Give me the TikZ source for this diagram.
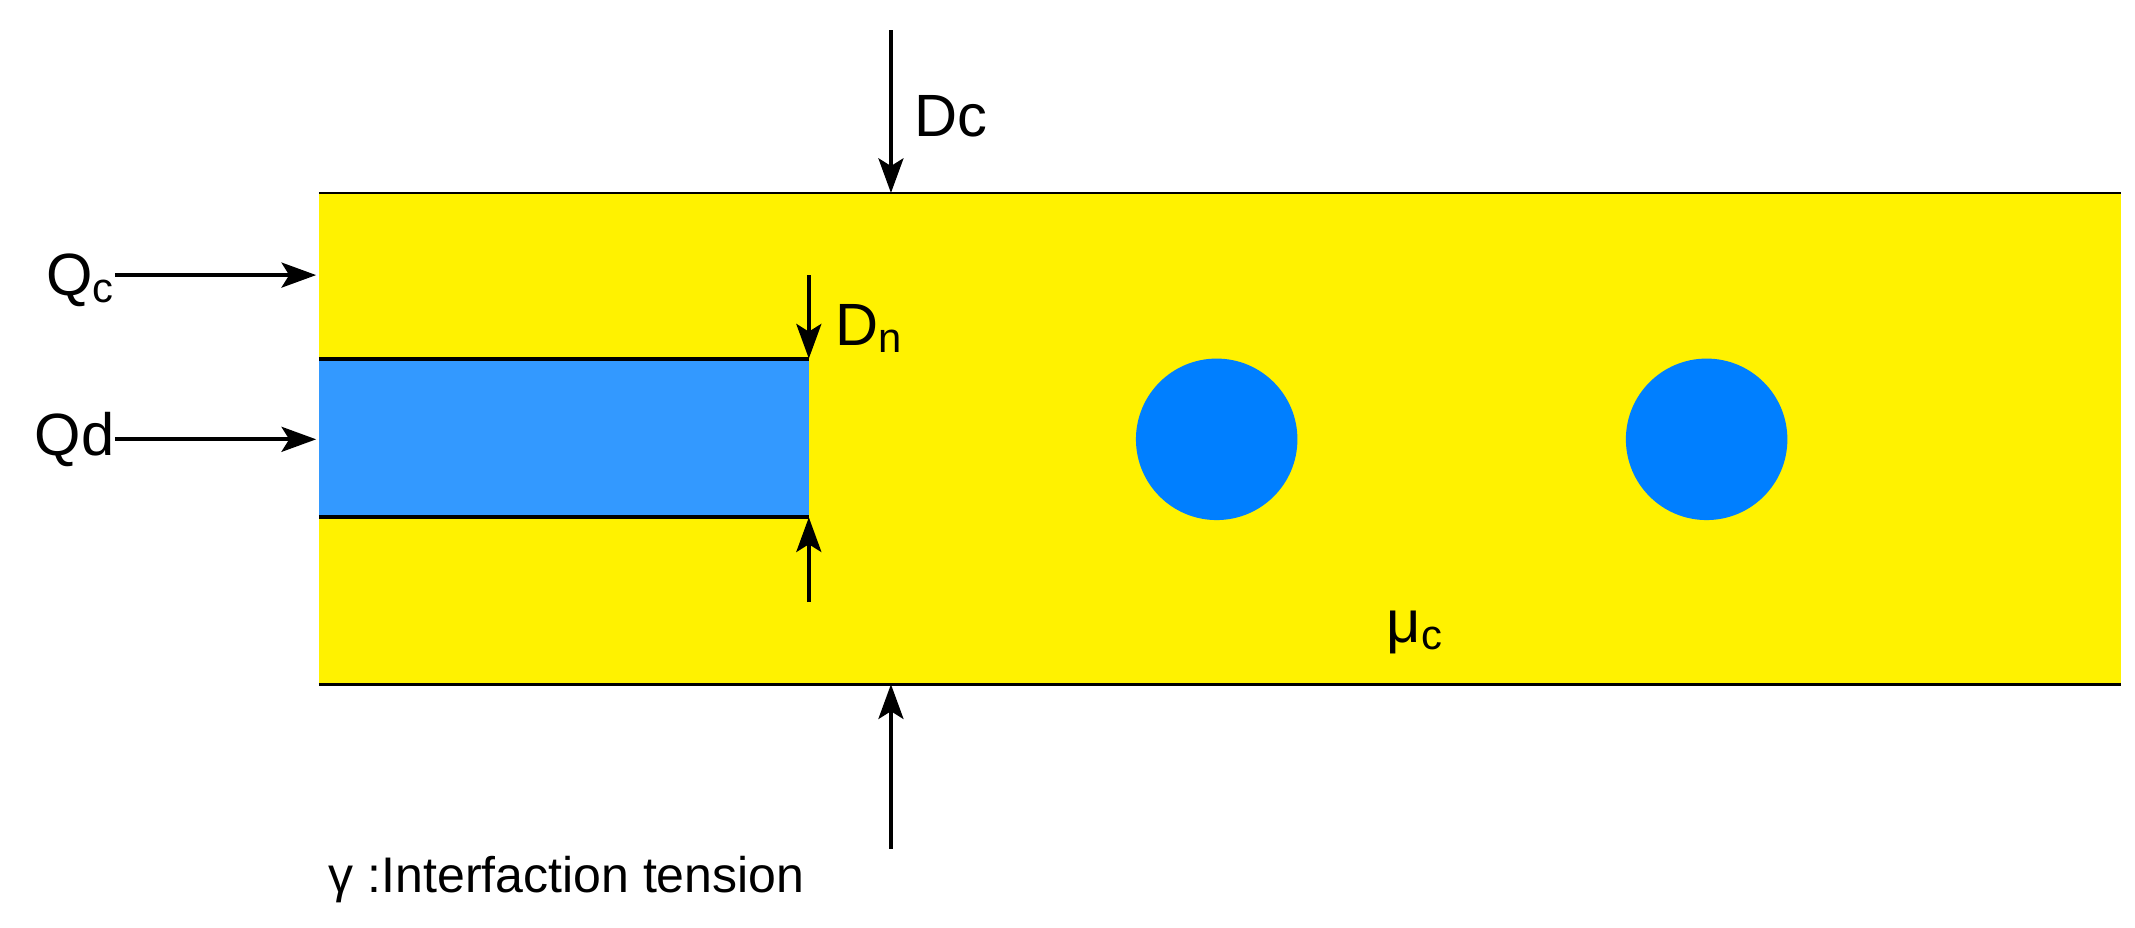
\documentclass[tikz,border=0pt]{standalone}
\usepackage{fontspec}
\setmainfont{Liberation Sans}
\usetikzlibrary{arrows.meta}
\begin{document}
\begin{tikzpicture}[x=0.025cm,y=-0.025cm,
  arr/.style={line width=1.9pt,-{Stealth[length=18pt,width=13pt,inset=4pt]}},
  lbl/.style={font=\fontsize{31}{36}\selectfont,inner sep=0pt}]
\useasboundingbox (0,0) rectangle (1560,678);
\fill[yellow] (233,141) rectangle (1550,500);
\draw[line width=1.3pt] (233,141) -- (1550,141);
\draw[line width=1.3pt] (233,500) -- (1550,500);
\fill[fill={rgb,255:red,51;green,153;blue,255}] (233,262) rectangle (591,378);
\draw[line width=2pt] (233,262) -- (591,262);
\draw[line width=2pt] (233,378) -- (591,378);
\fill[fill={rgb,255:red,0;green,127;blue,255}] (889,321) circle (59) (1247,321) circle (59);
\coordinate (dct) at (651,22); \coordinate (dcb) at (651,141);
\draw[arr] (dct) -- (dcb);
\node[lbl,anchor=west] (dc) at (668,85) {Dc};
\coordinate (gb) at (651,620); \coordinate (gt) at (651,500);
\draw[arr] (gb) -- (gt);
\node[lbl,anchor=base west,font=\fontsize{26}{30}\selectfont] (g) at (240,652) {γ :Interfaction tension};
\node[lbl,anchor=east] (qc) at (84,205) {Q\textsubscript{c}};
\node[lbl,anchor=east] (qd) at (84,321) {Qd};
\coordinate (qce) at (231,201); \coordinate (qde) at (231,321);
\draw[arr] (qc.east |- qce) -- (qce);
\draw[arr] (qd.east |- qde) -- (qde);
\coordinate (n1) at (591,201); \coordinate (n2) at (591,262);
\coordinate (n3) at (591,440); \coordinate (n4) at (591,378);
\draw[arr] (n1) -- (n2);
\draw[arr] (n3) -- (n4);
\node[lbl,anchor=west] (dn) at (610,240) {D\textsubscript{n}};
\node[lbl,anchor=west] (mu) at (1013,462) {μ\textsubscript{c}};
\end{tikzpicture}
\end{document}
